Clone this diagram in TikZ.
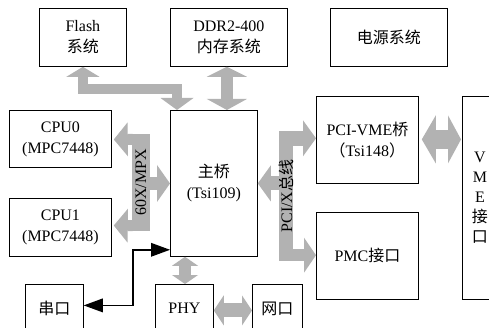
\documentclass[tikz,border=0pt]{standalone}
\usepackage{fontspec}
\setmainfont{Liberation Serif}
\newfontfamily\cjk{Noto Sans CJK SC}
\usetikzlibrary{arrows.meta,calc}
\begin{document}
\begin{tikzpicture}[x=1pt,y=-1pt,
  box/.style={draw=black, line width=0.8pt, align=center, inner sep=0pt, anchor=north west, font=\fontsize{16}{21}\selectfont},
  fat/.style={draw=gray!60, line width=#1, line join=miter},
  busbar/.style={fill=gray!60, inner sep=0pt, font=\fontsize{16}{21}\selectfont},
  blk/.style={draw=black, line width=1.8pt, line join=miter, {Triangle[width=14pt,length=19pt,line width=0pt]}-{Triangle[width=14pt,length=19pt,line width=0pt]}},
]
\clip (0,0) rectangle (489,328);
\fill[white] (0,0) rectangle (489,328);

% boxes
\node[box, minimum width=87pt,  minimum height=58pt] (flash) at (39,8)  {Flash\\{\cjk 系统}};
\node[box, minimum width=117pt, minimum height=58pt] (ddr)   at (170,8) {DDR2-400\\{\cjk 内存系统}};
\node[box, minimum width=117pt, minimum height=58pt] (pwr)   at (330,8) {{\cjk 电源系统}};
\node[box, minimum width=102pt, minimum height=57pt] (cpu0)  at (9,110)  {CPU0\\(MPC7448)};
\node[box, minimum width=102pt, minimum height=58pt] (cpu1)  at (9,198)  {CPU1\\(MPC7448)};
\node[box, minimum width=87pt,  minimum height=146pt] (zq)   at (170,110) {{\cjk 主桥}\\(Tsi109)};
\node[box, minimum width=102pt, minimum height=87pt] (vme)   at (316,96)  {PCI-VME{\cjk 桥}\\{\cjk （}Tsi148{\cjk ）}};
\node[box, minimum width=102pt, minimum height=87pt] (pmc)   at (316,212) {PMC{\cjk 接口}};
\node[box, minimum width=35pt,  minimum height=203pt, font=\fontsize{16}{20}\selectfont] (vmeif) at (462,96) {V\\M\\E\\{\cjk 接}\\{\cjk 口}};
\node[box, minimum width=58pt,  minimum height=48pt] (uart)  at (25,284)  {{\cjk 串口}};
\node[box, minimum width=58pt,  minimum height=48pt] (phy)   at (155,284) {PHY};
\node[box, minimum width=50pt,  minimum height=48pt] (net)   at (252,284) {{\cjk 网口}};

% Flash / main bridge bus
\draw[fat=10pt, {Triangle[width=33pt,length=10pt,line width=0pt]}-{Triangle[width=33pt,length=12pt,line width=0pt]}]
  (flash.south) -- ++(0,22) -| ($(zq.north west)+(7,0)$);
% DDR
\draw[fat=12pt, {Triangle[width=40pt,length=10pt,line width=0pt]}-{Triangle[width=40pt,length=11pt,line width=0pt]}]
  ($(ddr.south)+(-2,0)$) -- ($(ddr.south |- zq.north)+(-2,0)$);

% 60X/MPX bus
\node[busbar, minimum width=18pt, minimum height=97pt] (bus1) at (141,182.5) {\rotatebox{90}{60X/MPX}};
\draw[fat=11pt, -{Triangle[width=34pt,length=14pt,line width=0pt]}]
  ($(bus1.north west)+(1,5.5)$) -- ($(cpu0.north east)+(2,29.5)$);
\draw[fat=11pt, -{Triangle[width=34pt,length=14pt,line width=0pt]}]
  ($(bus1.south west)+(1,-5.5)$) -- ($(cpu1.north east)+(2,27.5)$);
\draw[fat=13pt, -{Triangle[width=37pt,length=13pt,line width=0pt]}]
  ($(bus1.east)+(-1,1)$) -- ($(bus1.east -| zq.west)+(0,1)$);

% PCI/X bus
\node[busbar, minimum width=14pt, minimum height=130pt] (bus2) at (286,196) {\rotatebox{90}{PCI/X{\cjk 总线}}};
\draw[fat=15pt, -{Triangle[width=36pt,length=13pt,line width=0pt]}]
  ($(bus2.north east)+(-1,7.5)$) -- ($(bus2.north east -| vme.west)+(0,7.5)$);
\draw[fat=14pt, -{Triangle[width=36pt,length=13pt,line width=0pt]}]
  ($(bus2.west |- zq.east)+(1,0)$) -- (zq.east);
\draw[fat=12pt, -{Triangle[width=35pt,length=12pt,line width=0pt]}]
  ($(bus2.south east)+(-1,-6)$) -- ($(bus2.south east -| pmc.west)+(0,-6)$);

% PCI-VME bridge <-> VME
\draw[fat=19pt, {Triangle[width=48pt,length=14pt,line width=0pt]}-{Triangle[width=48pt,length=13pt,line width=0pt]}]
  ($(vme.east)+(3,-0.5)$) -- ($(vme.east -| vmeif.west)+(-1,-0.5)$);

% main bridge <-> PHY
\draw[fat=12pt, {Triangle[width=26pt,length=9pt,line width=0pt]}-{Triangle[width=26pt,length=9pt,line width=0pt]}]
  ($(zq.south west)+(15,0)$) -- ($(phy.north west)+(30,0)$);
% PHY <-> net
\draw[fat=14pt, {Triangle[width=30pt,length=10pt,line width=0pt]}-{Triangle[width=30pt,length=10pt,line width=0pt]}]
  ($(phy.east)+(0,2)$) -- ($(net.west)+(0,2)$);

% serial link
\draw[blk] ($(zq.south west)+(0,-7)$) -- ($(zq.south west)+(-37,-7)$) |- ($(uart.east)+(0,-3)$);
\end{tikzpicture}
\end{document}
